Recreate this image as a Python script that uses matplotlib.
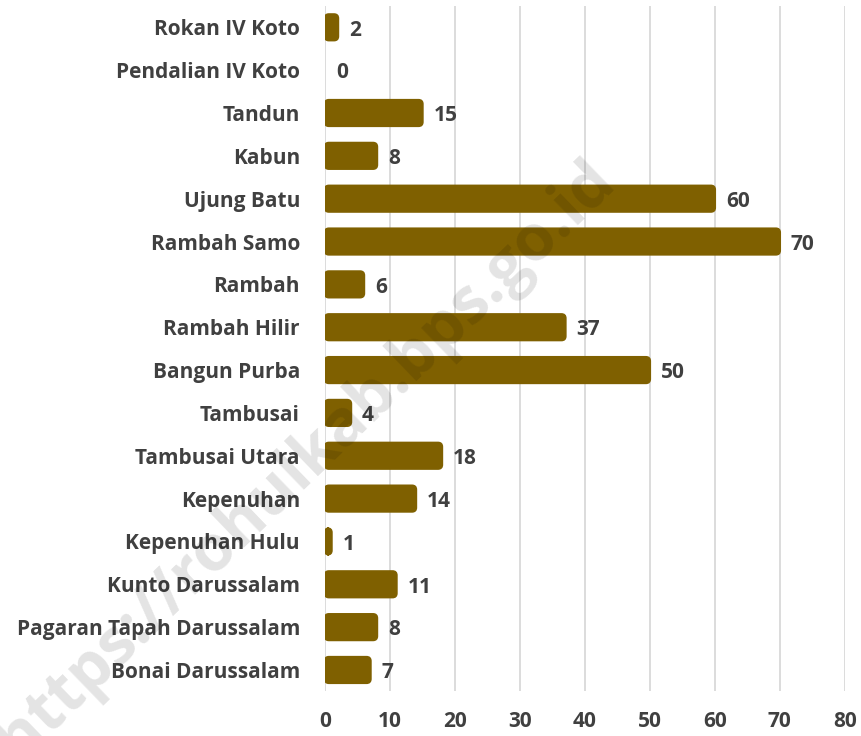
import matplotlib.pyplot as plt
from matplotlib.patches import FancyBboxPatch

kecamatan = ["Rokan IV Koto", "Pendalian IV Koto", "Tandun", "Kabun", "Ujung Batu",
             "Rambah Samo", "Rambah", "Rambah Hilir", "Bangun Purba", "Tambusai",
             "Tambusai Utara", "Kepenuhan", "Kepenuhan Hulu", "Kunto Darussalam",
             "Pagaran Tapah Darussalam", "Bonai Darussalam"]
nilai = [2, 0, 15, 8, 60, 70, 6, 37, 50, 4, 18, 14, 1, 11, 8, 7]
xticks = [0, 10, 20, 30, 40, 50, 60, 70, 80]

BAR = "#7F6000"
TXT = "#404040"
plt.rcParams['font.family'] = ['Open Sans', 'DejaVu Sans']

fig = plt.figure(figsize=(8.62, 7.36), dpi=100)
ax = fig.add_axes([0.377, 0.0606, 0.603, 0.9314])
ax.set_facecolor("none")

pos = list(range(len(kecamatan)))
bars = ax.barh(pos, nilai, height=0.6, color=BAR)
ax.set_ylim(len(kecamatan) - 0.5, -0.5)
ax.set_xlim(0, 80)

# rounded bar ends (corner radius in pixel-equal units)
aspect = (ax.bbox.width / 80) / (ax.bbox.height / len(kecamatan))
for b in bars:
    b.set_visible(False)
    if b.get_width() <= 0:
        continue
    fb = FancyBboxPatch((b.get_x(), b.get_y()), b.get_width(), b.get_height(),
                        boxstyle="round,pad=0,rounding_size=0.6",
                        mutation_aspect=aspect, facecolor=BAR, edgecolor=BAR,
                        linewidth=1.8, zorder=3)
    ax.add_patch(fb)

for p, v in zip(pos, nilai):
    ax.annotate(str(v), (v, p), xytext=(8, -2), textcoords="offset points",
                ha="left", va="center", fontsize=15, fontweight="bold", color=TXT)

ax.set_yticks(pos)
ax.set_yticklabels(kecamatan, fontsize=15, fontweight="bold", color=TXT)
ax.set_xticks(xticks)
ax.set_xticklabels([str(t) for t in xticks], fontsize=15, fontweight="bold", color=TXT)
ax.tick_params(axis="y", length=0, pad=18)
ax.tick_params(axis="x", length=0, pad=14)
ax.grid(axis="x", color="#D9D9D9", linewidth=1.3)
ax.set_axisbelow(True)
for s in ax.spines.values():
    s.set_visible(False)

fig.text(0.355, 0.375, "https://rohulkab.bps.go.id", rotation=44, fontsize=46,
         fontweight="bold", color="#000000", alpha=0.11, ha="center", va="center", zorder=0)

fig.savefig("out.png", dpi=100)
